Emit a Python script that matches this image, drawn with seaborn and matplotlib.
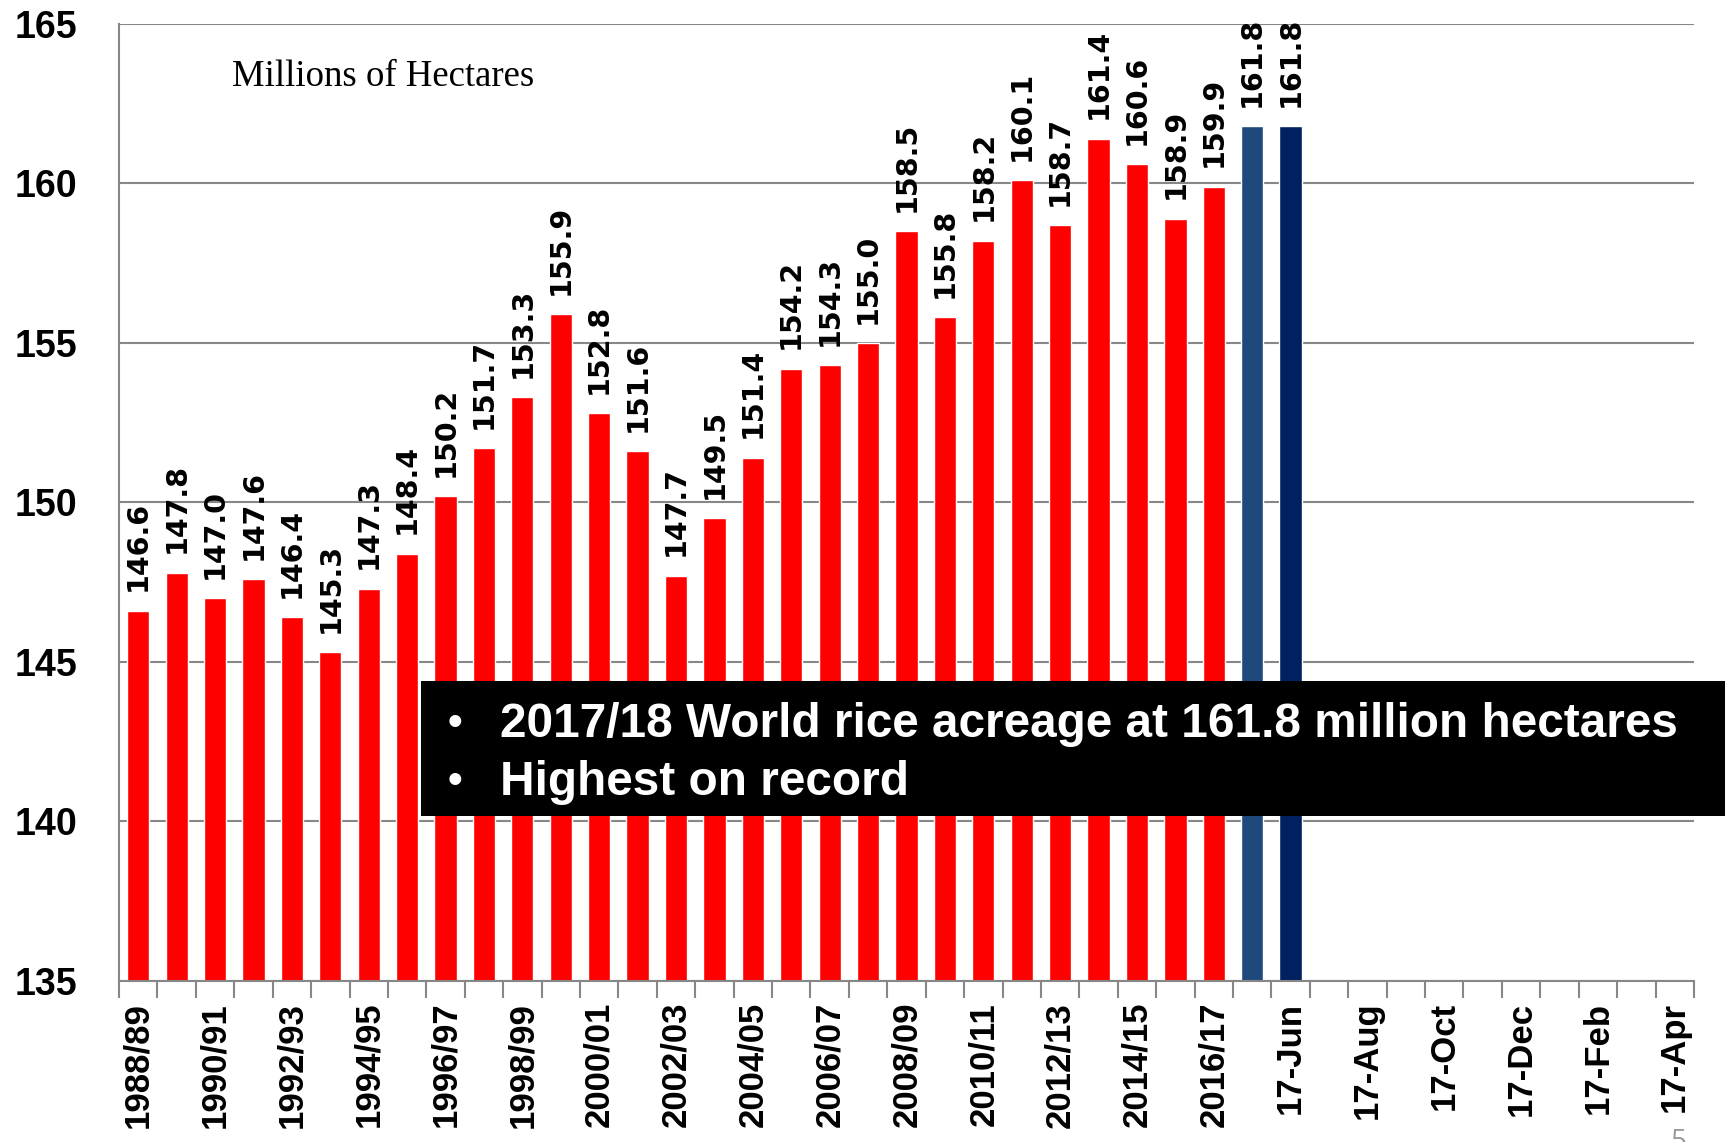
import numpy as np
import pandas as pd
import matplotlib
matplotlib.use("Agg")
import matplotlib.pyplot as plt
import seaborn as sns
from matplotlib.patches import Rectangle

seasons = ["1988/89", "1989/90", "1990/91", "1991/92", "1992/93", "1993/94", "1994/95",
           "1995/96", "1996/97", "1997/98", "1998/99", "1999/00", "2000/01", "2001/02",
           "2002/03", "2003/04", "2004/05", "2005/06", "2006/07", "2007/08", "2008/09",
           "2009/10", "2010/11", "2011/12", "2012/13", "2013/14", "2014/15", "2015/16",
           "2016/17"]
season_values = [146.6, 147.8, 147.0, 147.6, 146.4, 145.3, 147.3, 148.4, 150.2, 151.7,
                 153.3, 155.9, 152.8, 151.6, 147.7, 149.5, 151.4, 154.2, 154.3, 155.0,
                 158.5, 155.8, 158.2, 160.1, 158.7, 161.4, 160.6, 158.9, 159.9]
months = ["17-May", "17-Jun", "17-Jul", "17-Aug", "17-Sep", "17-Oct", "17-Nov",
          "17-Dec", "17-Jan", "17-Feb", "17-Mar", "17-Apr"]
month_values = [161.8, 161.8, None, None, None, None, None, None, None, None, None, None]
y_ticks = [135, 140, 145, 150, 155, 160, 165]

season_color = "#FF0000"
month_colors = ["#1F497D", "#002060"]

categories = seasons + months
values = season_values + month_values
df = pd.DataFrame({"cat": categories, "val": values}).dropna()

palette = {c: season_color for c in seasons}
for i, m in enumerate(months):
    palette[m] = month_colors[i] if i < len(month_colors) else "#002060"

sns.set_theme(style="white")
fig = plt.figure(figsize=(17.25, 11.42), dpi=100)
ax = fig.add_axes([0.069, 0.141, 0.913, 0.838])

sns.barplot(data=df, x="cat", y="val", hue="cat", order=categories, hue_order=categories,
            palette=palette, legend=False, dodge=False, width=0.58, ax=ax,
            saturation=1, errorbar=None)

ax.set_ylim(135, 165)
ax.set_xlim(-0.5, len(categories) - 0.5)
ax.set_xlabel("")
ax.set_ylabel("")

grid_c = "#878787"
ax.set_yticks(y_ticks, labels=[str(t) for t in y_ticks], fontfamily="Liberation Sans",
              fontweight="bold", fontsize=27, color="black")
ax.yaxis.grid(True, color=grid_c, linewidth=1.5)
ax.set_axisbelow(True)
for s in ["top", "right"]:
    ax.spines[s].set_visible(False)
for s in ["left", "bottom"]:
    ax.spines[s].set_color(grid_c)
    ax.spines[s].set_linewidth(1.5)
ax.tick_params(axis="y", length=0, pad=30)

major_pos = list(range(0, len(categories), 2))
ax.set_xticks(major_pos, labels=[categories[i] for i in major_pos], rotation=90,
              fontfamily="Liberation Sans", fontweight="bold", fontsize=25, color="black")
ax.set_xticks(np.arange(-0.5, len(categories), 1), minor=True)
ax.tick_params(axis="x", which="major", length=0, pad=15)
ax.tick_params(axis="x", which="minor", length=12, width=1.5, color=grid_c, direction="out",
               bottom=True)

for cont in ax.containers:
    ax.bar_label(cont, fmt="%.1f", rotation=90, padding=14,
                 fontfamily="DejaVu Sans", fontweight="bold", fontsize=20.5, color="black")

ax.text(0.072, 0.945, "Millions of Hectares", transform=ax.transAxes,
        fontfamily="Liberation Serif", fontsize=26.5, color="black", va="center", ha="left")

# annotation box
box = Rectangle((0.2443, 0.2852), 0.7557, 0.1185, transform=fig.transFigure,
                facecolor="black", edgecolor="none", zorder=10)
fig.patches.append(box)
box_font = ["Liberation Sans"]
fig.text(0.2596, 0.366, "\u2022", color="white", fontsize=30, fontweight="bold",
         family=box_font, va="center", ha="left", zorder=11)
fig.text(0.2900, 0.366, "2017/18 World rice acreage at 161.8 million hectares", color="white",
         fontsize=34.4, fontweight="bold", family=box_font, va="center", ha="left", zorder=11)
fig.text(0.2596, 0.315, "\u2022", color="white", fontsize=30, fontweight="bold",
         family=box_font, va="center", ha="left", zorder=11)
fig.text(0.2900, 0.315, "Highest on record", color="white",
         fontsize=34.4, fontweight="bold", family=box_font, va="center", ha="left", zorder=11)

fig.text(0.9685, -0.012, "5", color="#999999", fontsize=20, family="Open Sans",
         va="bottom", ha="left")

fig.savefig("out.png", dpi=100)
